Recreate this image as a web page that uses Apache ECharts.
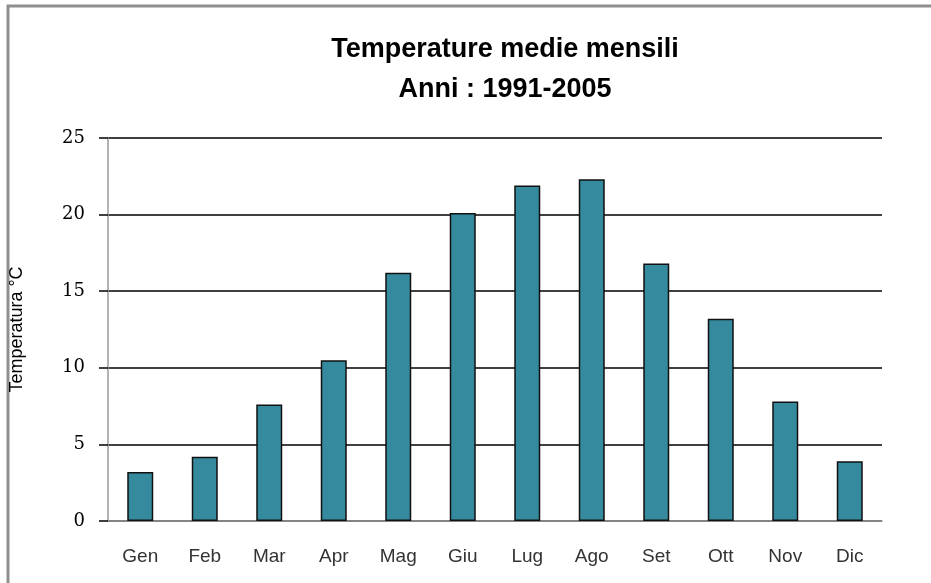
<!DOCTYPE html>
<html>
<head>
<meta charset="utf-8">
<script src="https://cdn.jsdelivr.net/npm/echarts@6/dist/echarts.min.js"></script>
<style>
  html, body { margin: 0; padding: 0; background: #fff; }
  #tempchart { width: 931px; height: 583px; }
</style>
</head>
<body>
<div id="tempchart"></div>
<script>
var months = ['Gen', 'Feb', 'Mar', 'Apr', 'Mag', 'Giu', 'Lug', 'Ago', 'Set', 'Ott', 'Nov', 'Dic'];
var tempMedie = [3.2, 4.2, 7.6, 10.5, 16.2, 20.1, 21.9, 22.3, 16.8, 13.2, 7.8, 3.9];
var yTicks = [0, 5, 10, 15, 20, 25];

var chart = echarts.init(document.getElementById('tempchart'));

var option = {
    backgroundColor: '#ffffff',
    animation: false,
    title: {
        text: 'Temperature medie mensili\nAnni : 1991-2005',
        left: 500,
        top: 25,
        textAlign: 'center',
        textStyle: {
            fontFamily: 'Liberation Sans',
            fontWeight: 'bold',
            fontSize: 27,
            lineHeight: 40,
            color: '#000'
        }
    },
    graphic: [{
        type: 'polyline',
        shape: { points: [[8, 600], [8, 6], [940, 6]] },
        style: { stroke: '#8f8f8f', lineWidth: 3, fill: null }
    }],
    grid: {
        left: 108,
        right: 49,
        top: 138,
        bottom: 62
    },
    xAxis: {
        type: 'category',
        data: months,
        axisLine: { lineStyle: { color: '#9a9a9a', width: 1.5 } },
        axisTick: { show: false },
        axisLabel: {
            margin: 26,
            fontFamily: 'Liberation Sans',
            fontSize: 19,
            color: '#333'
        }
    },
    yAxis: {
        type: 'value',
        name: 'Temperatura °C',
        nameLocation: 'middle',
        nameGap: 82,
        nameRotate: 90,
        nameTextStyle: {
            fontFamily: 'Liberation Sans',
            fontSize: 18,
            color: '#000'
        },
        min: yTicks[0],
        max: yTicks[yTicks.length - 1],
        interval: 5,
        axisLine: { show: true, lineStyle: { color: '#9a9a9a', width: 1.5 } },
        axisTick: { show: true, length: 9, lineStyle: { color: '#000', width: 1.5 } },
        axisLabel: {
            margin: 23,
            fontFamily: 'DejaVu Serif',
            fontSize: 18,
            color: '#000'
        },
        splitLine: { lineStyle: { color: '#000', width: 1.5 } }
    },
    series: [{
        name: 'Temperatura',
        type: 'bar',
        barWidth: 26,
        data: tempMedie,
        itemStyle: {
            color: '#368a9e',
            borderColor: '#111',
            borderWidth: 1.5
        },
        z: 3
    }]
};

chart.setOption(option, true);
window.addEventListener('resize', function () {
    chart.resize();
});
</script>
</body>
</html>
